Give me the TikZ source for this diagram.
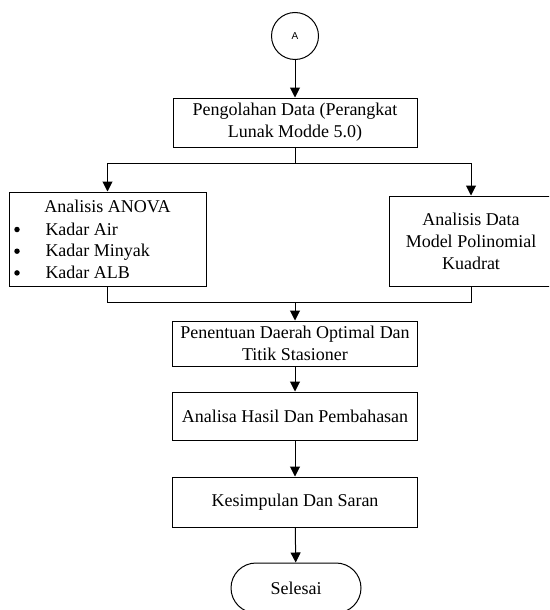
\documentclass[tikz,border=0pt]{standalone}
\usepackage{fontspec}
\setmainfont{Liberation Serif}
\newfontfamily\arialfont{Liberation Sans}
\usetikzlibrary{arrows.meta,shapes.misc}
\begin{document}
\begin{tikzpicture}[x=1pt,y=-1pt, line width=1pt,
  box/.style={draw, rectangle, inner sep=0pt, align=center, font=\fontsize{18}{22}\selectfont},
  arr/.style={-{Triangle[width=10pt,length=10pt]}},
  txt/.style={inner sep=0pt, anchor=base, font=\fontsize{18}{22}\selectfont},
  itm/.style={inner sep=0pt, anchor=base west, font=\fontsize{18}{22}\selectfont},
  bullet/.style={circle, fill, draw=none, minimum size=5.5pt, inner sep=0pt}]
\useasboundingbox (0,0) rectangle (549,610);
\clip (0,0) rectangle (549,610);
\node[circle, draw, minimum size=47pt, inner sep=0pt, font=\arialfont\fontsize{10}{12}\selectfont] (a) at (295,36) {A};
\node[box, minimum width=244pt, minimum height=49pt] (pengolahan) at (295,122.5) {Pengolahan Data (Perangkat\\Lunak Modde 5.0)};
\node[box, minimum width=197pt, minimum height=94pt] (anova) at (107.5,239) {};
\node[txt] (anovat) at (107.5,212) {Analisis ANOVA};
\node[bullet] (b1) at (17,229.5) {};
\node[bullet] (b2) at (17,251.2) {};
\node[bullet] (b3) at (17,272.9) {};
\node[itm] (i1) at (45,235) {Kadar Air};
\node[itm] (i2) at (45,256.7) {Kadar Minyak};
\node[itm] (i3) at (45,278.4) {Kadar ALB};
\node[box, minimum width=164pt, minimum height=90pt] (polinom) at (471,241) {Analisis Data\\Model Polinomial\\Kuadrat};
\node[box, minimum width=245pt, minimum height=45pt] (optimal) at (295,343.5) {Penentuan Daerah Optimal Dan\\Titik Stasioner};
\node[box, minimum width=245pt, minimum height=48pt] (analisa) at (295,416) {Analisa Hasil Dan Pembahasan};
\node[box, minimum width=245pt, minimum height=50pt] (kesimpulan) at (295,502) {Kesimpulan Dan Saran};
\node[draw, rounded rectangle, minimum width=130pt, minimum height=50pt, inner sep=0pt, font=\fontsize{18}{22}\selectfont] (selesai) at (296,588) {Selesai};
\coordinate (split) at (295,163);
\coordinate (merge) at (295,302);
\draw[arr] (a) -- (pengolahan);
\draw (pengolahan.south) -- (split);
\draw[arr] (split) -| (anova.north);
\draw[arr] (split) -| (polinom.north);
\draw (anova.south) |- (merge);
\draw (polinom.south) |- (merge);
\draw[arr] (merge) -- (optimal);
\draw[arr] (optimal) -- (analisa);
\draw[arr] (analisa) -- (kesimpulan);
\draw[arr] (kesimpulan) -- (selesai);
\end{tikzpicture}
\end{document}
